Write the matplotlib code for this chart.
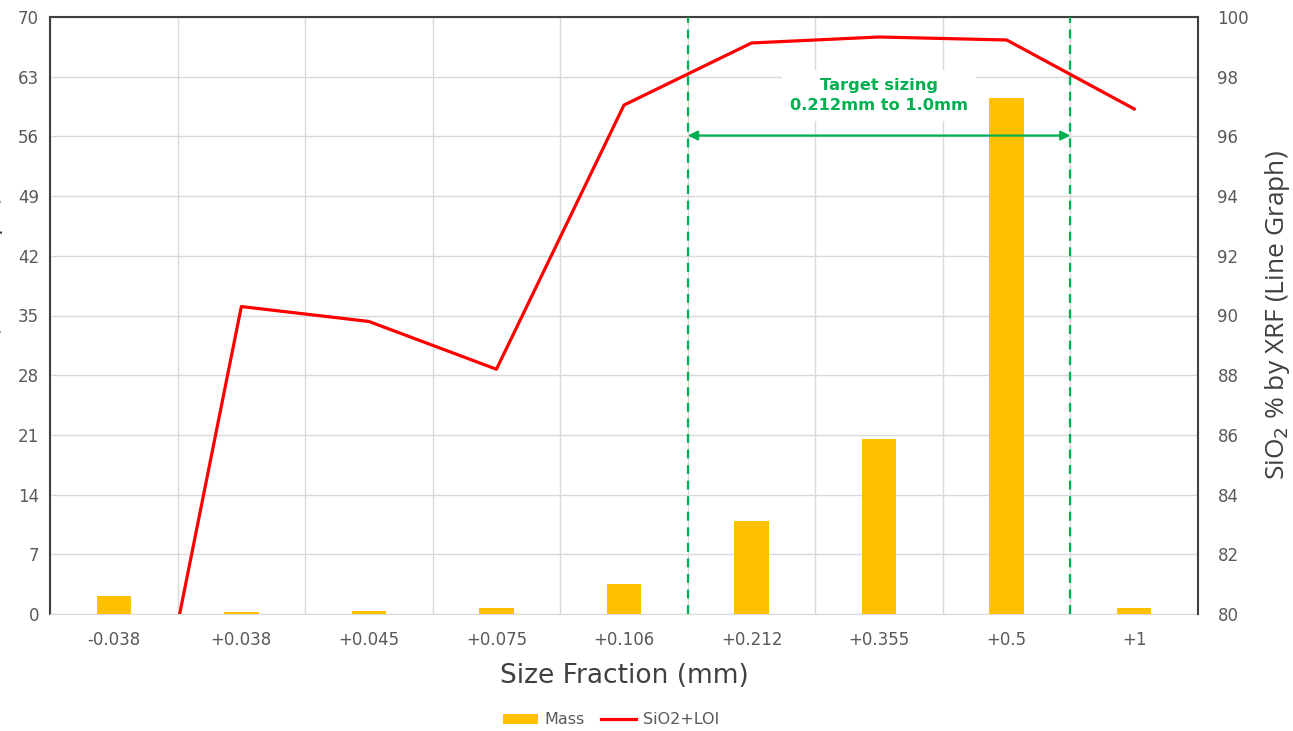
import numpy as np
import matplotlib.pyplot as plt
from matplotlib import font_manager

# data
fractions = ['-0.038', '+0.038', '+0.045', '+0.075', '+0.106',
             '+0.212', '+0.355', '+0.5', '+1']
mass      = [2.1, 0.25, 0.3, 0.75, 3.5, 10.9, 20.5, 60.5, 0.7]
sio2_loi  = [69.0, 90.3, 89.8, 88.2, 97.05, 99.13, 99.33, 99.23, 96.92]
left_ticks  = [0, 7, 14, 21, 28, 35, 42, 49, 56, 63, 70]
right_ticks = [80, 82, 84, 86, 88, 90, 92, 94, 96, 98, 100]

names = {f.name for f in font_manager.fontManager.ttflist}
narrow = 'Liberation Sans Narrow' if 'Liberation Sans Narrow' in names else 'Open Sans'
narrow_size = 18 if narrow == 'Liberation Sans Narrow' else 19
plt.rcParams['font.family'] = ['DejaVu Sans']

GREY = '#595959'
GREEN = '#00B050'

fig = plt.figure(figsize=(12.93, 7.31), dpi=100)
ax = fig.add_axes([50/1293, 1 - 614/731, (1198-50)/1293, (614-17)/731])
x = np.arange(len(fractions))

ax.bar(x, mass, width=0.27, color='#FFC000', label='Mass', zorder=3)
ax.set_xlim(-0.5, len(fractions) - 0.5)
ax.set_ylim(0, 70)
ax.set_yticks(left_ticks)
ax.set_xticks(x)
ax.set_xticklabels(fractions)
ax.set_xticks(np.arange(-0.5, len(fractions)), minor=True)
ax.tick_params(axis='x', which='both', length=0, colors=GREY, labelsize=12, pad=12)
ax.tick_params(axis='y', length=0, colors=GREY, labelsize=12, pad=8)
ax.grid(axis='y', color='#D9D9D9', lw=1, zorder=0)
ax.grid(axis='x', which='minor', color='#D9D9D9', lw=1, zorder=0)
ax.set_xlabel('Size Fraction (mm)', fontsize=19, color='#404040', labelpad=10)
ax.set_ylabel('Mass % (Bar Graph)', fontsize=narrow_size, color='#404040', family=narrow)
ax.yaxis.set_label_coords(-0.041, 0.5)
for s in ['left', 'top']:
    ax.spines[s].set_color('#404040')
    ax.spines[s].set_linewidth(1.5)
ax.spines['bottom'].set_color('#D9D9D9')
ax.spines['right'].set_visible(False)

ax2 = ax.twinx()
ax2.plot(x, sio2_loi, color='#FF0000', lw=2.3, label='SiO2+LOI', zorder=4)
ax2.set_ylim(80, 100)
ax2.set_yticks(right_ticks)
ax2.tick_params(axis='y', length=0, colors=GREY, labelsize=12, pad=14)
ax2.set_ylabel('SiO$_2$ % by XRF (Line Graph)', fontsize=narrow_size, color='#404040',
               labelpad=10, family=narrow)
for s in ['left', 'top', 'bottom']:
    ax2.spines[s].set_visible(False)
ax2.spines['right'].set_color('#404040')
ax2.spines['right'].set_linewidth(1.5)

# target sizing markers
for b in [4.5, 7.5]:
    ax.axvline(b, color=GREEN, ls=(0, (4, 3)), lw=1.6, zorder=5)
ax.annotate('', xy=(4.5, 56.1), xytext=(7.5, 56.1),
            arrowprops=dict(arrowstyle='<|-|>', color=GREEN, lw=1.6,
                            shrinkA=0, shrinkB=0, mutation_scale=14), zorder=5)
ax.text(6.0, 60.8, 'Target sizing\n0.212mm to 1.0mm', color=GREEN, fontsize=11.7,
        fontweight='bold', ha='center', va='center', linespacing=1.4, zorder=5,
        bbox=dict(facecolor='white', edgecolor='none', pad=6))

h1, l1 = ax.get_legend_handles_labels()
h2, l2 = ax2.get_legend_handles_labels()
fig.legend(h1 + h2, l1 + l2, loc='center', bbox_to_anchor=(611/1293, 1 - 720/731),
           ncol=2, frameon=False, fontsize=11.5, labelcolor=GREY,
           handlelength=2.2, handleheight=0.6, handletextpad=0.4, columnspacing=1.0)

fig.savefig('out.png', dpi=100)
